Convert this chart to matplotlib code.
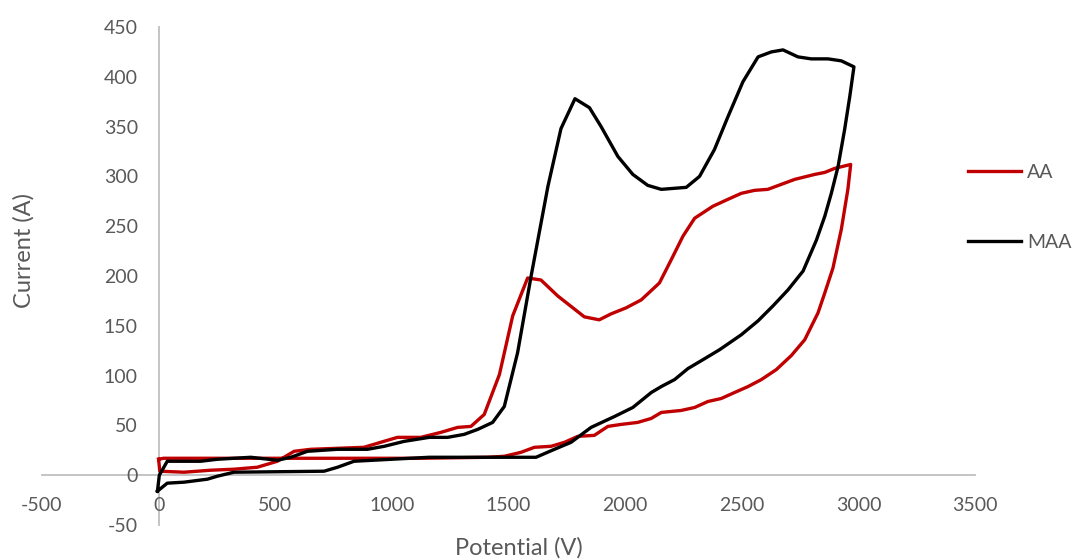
import matplotlib
matplotlib.use("Agg")
from matplotlib import pyplot as plt

# AA curve (closed CV loop)
aa_x = [0, 5, 109, 223, 322, 423, 509, 581, 652, 880, 966, 1024, 1124, 1210, 1282, 1339,
        1396, 1461, 1518, 1582, 1639, 1711, 1825, 1889, 1940, 2004, 2069, 2147, 2197, 2248,
        2298, 2376, 2441, 2498, 2555, 2612, 2727, 2813, 2856, 2898, 2967,
        2955, 2927, 2891, 2856, 2827, 2770, 2712, 2648, 2584, 2527, 2469, 2412, 2355, 2298,
        2240, 2197, 2155, 2112, 2054, 1983, 1926, 1868, 1797, 1740, 1682, 1611, 1554, 1482,
        1411, 1124, 700, 400, 21, 0]
aa_y = [16, 4, 3, 5, 6, 8, 14, 24, 26, 28, 34, 38, 38, 43, 48, 49,
        61, 101, 160, 198, 196, 180, 159, 156, 162, 168, 176, 193, 216, 240,
        258, 270, 277, 283, 286, 287, 297, 302, 304, 308, 312,
        287, 247, 208, 183, 163, 136, 120, 106, 96, 89, 83, 77, 74, 68,
        65, 64, 63, 57, 53, 51, 49, 40, 39, 33, 29, 28, 23, 19,
        18, 17, 17, 17, 17, 16]

# MAA curve (closed CV loop)
maa_x = [-5, 3, 37, 180, 252, 395, 509, 567, 638, 766, 895, 967, 1053, 1160, 1239, 1310,
         1368, 1432, 1482, 1539, 1597, 1669, 1725, 1785, 1847, 1897, 1969, 2033, 2097, 2155,
         2262, 2319, 2383, 2441, 2505, 2570, 2627, 2677, 2741, 2798, 2870, 2927, 2981,
         2963, 2941, 2913, 2884, 2856, 2820, 2763, 2698, 2634, 2570, 2498, 2405, 2341, 2269,
         2212, 2155, 2112, 2033, 1955, 1854, 1768, 1697, 1618, 1160, 838, 767, 709, 323,
         252, 209, 109, 37, -5]
maa_y = [-16, 0, 14, 14, 16, 18, 15, 18, 24, 26, 26, 29, 34, 38, 38, 41,
         46, 53, 69, 123, 200, 290, 348, 378, 369, 350, 320, 302, 291, 287,
         289, 300, 327, 360, 395, 420, 425, 427, 420, 418, 418, 416, 410,
         380, 347, 310, 283, 260, 236, 205, 186, 170, 155, 141, 126, 117, 107,
         96, 89, 83, 68, 59, 48, 33, 26, 18, 18, 14, 8, 4, 3,
         -1, -4, -7, -8, -16]

x_ticks = list(range(-500, 3501, 500))
y_ticks = list(range(-50, 451, 50))

plt.rcParams['font.family'] = ['Lato', 'DejaVu Sans']
plt.rcParams['axes.unicode_minus'] = False
grey = '#595959'

fig = plt.figure(figsize=(10.78, 5.6), dpi=100)
ax = fig.add_axes([42 / 1078, 1 - 525 / 560, (975 - 42) / 1078, (525 - 27) / 560])

ax.plot(aa_x, aa_y, color='#c00000', lw=2.4, label='AA', solid_joinstyle='round')
ax.plot(maa_x, maa_y, color='black', lw=2.4, label='MAA', solid_joinstyle='round')

ax.set_xlim(-500, 3500)
ax.set_ylim(-50, 450)
ax.set_xticks(x_ticks)
ax.set_yticks(y_ticks)

ax.spines['top'].set_visible(False)
ax.spines['right'].set_visible(False)
ax.spines['left'].set_position(('data', 0))
ax.spines['bottom'].set_position(('data', 0))
for s in ['left', 'bottom']:
    ax.spines[s].set_color('#bfbfbf')
    ax.spines[s].set_linewidth(1.3)
    ax.spines[s].set_zorder(0)

ax.tick_params(axis='x', length=0, pad=16, labelsize=14, labelcolor=grey)
ax.tick_params(axis='y', length=0, pad=15, labelsize=14, labelcolor=grey)
ax.patch.set_visible(False)

fig.text(24 / 1078, 1 - 250 / 560, 'Current (A)', rotation=90, ha='center', va='center',
         fontsize=17, color=grey)
fig.text(519 / 1078, 1 - 548 / 560, 'Potential (V)', ha='center', va='center',
         fontsize=17, color=grey)

fig.legend(loc='center left', bbox_to_anchor=(968 / 1078, 1 - 207.5 / 560), frameon=False,
           fontsize=14, labelcolor=grey, handlelength=2.7, handletextpad=0.35,
           labelspacing=2.7, borderpad=0, borderaxespad=0)

fig.savefig('out.png', dpi=100)
